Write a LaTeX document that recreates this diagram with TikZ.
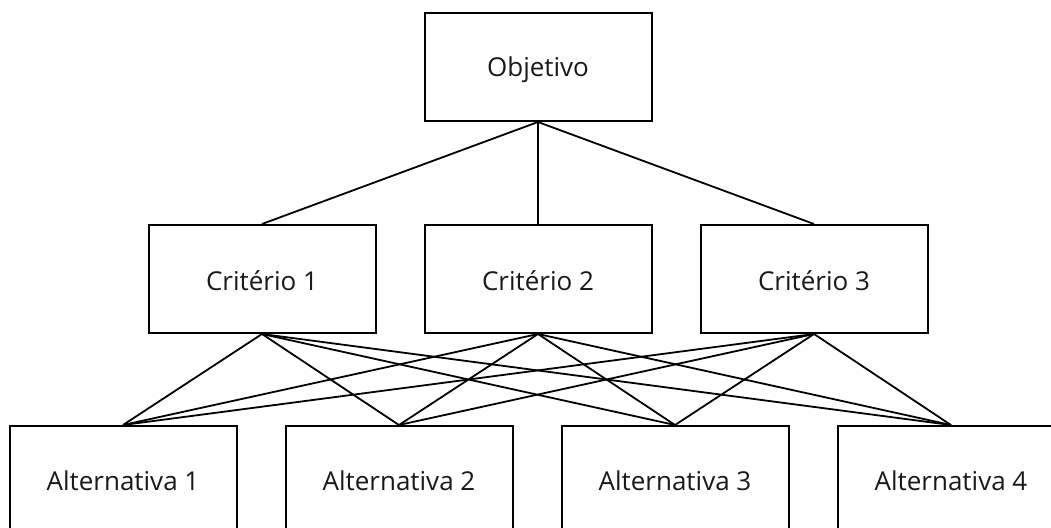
\documentclass[tikz,border=0pt]{standalone}
\usepackage{fontspec}
\setmainfont{Open Sans}
\begin{document}
\begin{tikzpicture}[x=1pt,y=-1pt,
  lbl/.style={font=\fontsize{26}{30}\selectfont,text=black!90},
  box/.style={draw=black,line width=2pt,minimum width=227pt,minimum height=108pt,inner sep=0pt,lbl},
  link/.style={line width=1.8pt}]
\useasboundingbox (0,0) rectangle (1051,527);
\clip (0,0) rectangle (1051,527);
\node[box] (obj) at (538,67) {};
\node[lbl] (to) at (538,70) {Objetivo};
\node[box] (c1) at (262,279) {};
\node[box] (c2) at (538,279) {};
\node[box] (c3) at (814,279) {};
\node[lbl] (tc1) at (262,281) {Critério 1};
\node[lbl] (tc2) at (538,281) {Critério 2};
\node[lbl] (tc3) at (814,281) {Critério 3};
\node[box,anchor=north] (a1) at (123,425) {};
\node[box,anchor=north] (a2) at (399,425) {};
\node[box,anchor=north] (a3) at (675,425) {};
\node[box,anchor=north] (a4) at (951,425) {};
\node[lbl] (t1) at (123,481) {Alternativa 1};
\node[lbl] (t2) at (399,481) {Alternativa 2};
\node[lbl] (t3) at (675,481) {Alternativa 3};
\node[lbl] (t4) at (951,481) {Alternativa 4};
\foreach \c in {c1,c2,c3} \draw[link] (obj.south) -- (\c.north);
\foreach \c in {c1,c2,c3}
  \foreach \a in {a1,a2,a3,a4}
    \draw[link] (\c.south) -- (\a.north);
\end{tikzpicture}
\end{document}
